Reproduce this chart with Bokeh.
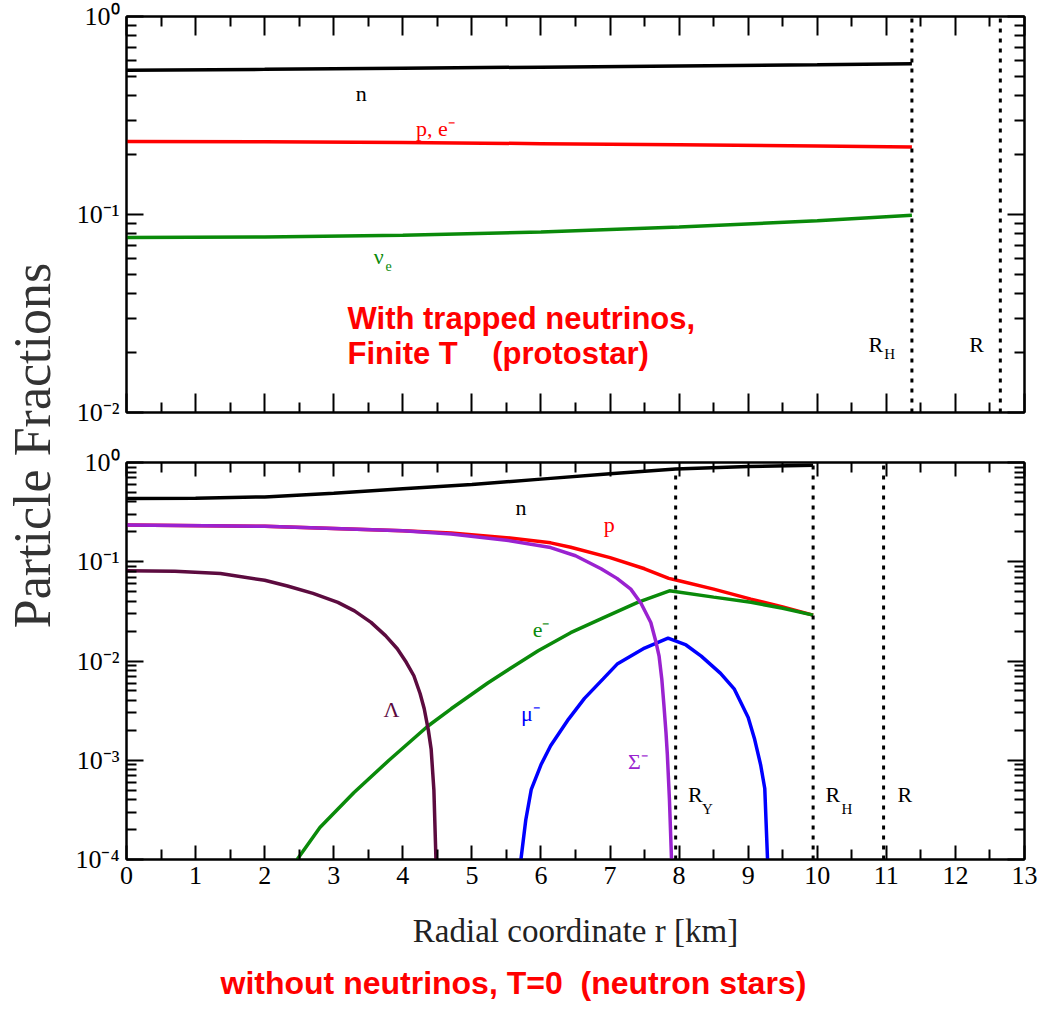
import numpy as np
from math import pi
from bokeh.plotting import figure
from bokeh.models import (FixedTicker, LinearAxis, LogAxis, Label, Title,
                          CustomJSTickFormatter, Range1d)
from bokeh.layouts import row, column
from bokeh.embed import file_html
from bokeh.resources import INLINE

# ---------------- data: top panel (trapped neutrinos, finite T) ----------------
r_top = [0, 2, 4, 6, 8, 10, 11.37]
n_top = [0.535, 0.541, 0.548, 0.555, 0.563, 0.571, 0.578]
pe_top = [0.234, 0.233, 0.231, 0.228, 0.225, 0.222, 0.219]
nue_top = [0.0765, 0.0770, 0.0785, 0.0815, 0.0865, 0.0930, 0.0990]
radii_top = [11.37, 12.65]          # R_H, R

# ---------------- data: bottom panel (no neutrinos, T=0) ----------------
r_n = [0, 1, 2, 3, 4, 5, 6, 7, 7.95, 9, 9.94]
n_bot = [0.435, 0.437, 0.45, 0.49, 0.545, 0.60, 0.68, 0.77, 0.86, 0.91, 0.94]

r_p = [0, 2, 4, 4.7, 5.5, 6.14, 6.43, 7.0, 7.5, 7.85, 8.0, 8.5, 9.04, 9.5, 9.94]
p_bot = [0.234, 0.228, 0.205, 0.195, 0.175, 0.155, 0.14, 0.11, 0.085, 0.068,
         0.0644, 0.053, 0.042, 0.035, 0.029]

r_sig = [0, 2, 4, 4.7, 5.5, 6.14, 6.5, 6.87, 7.1, 7.3, 7.45, 7.59, 7.66, 7.71,
         7.75, 7.78, 7.81, 7.83, 7.86, 7.89]
sig_bot = [0.234, 0.228, 0.205, 0.19, 0.165, 0.139, 0.115, 0.085, 0.068, 0.053,
           0.038, 0.0244, 0.016, 0.0112, 0.0065, 0.0036, 0.0019, 0.00113, 0.0004,
           0.0001]

r_lam = [0, 0.7, 1.36, 2, 2.33, 2.7, 3.06, 3.3, 3.54, 3.75, 3.92, 4.05, 4.16,
         4.25, 4.31, 4.37, 4.41, 4.45, 4.48]
lam_bot = [0.081, 0.080, 0.076, 0.065, 0.057, 0.048, 0.039, 0.032, 0.0245, 0.018,
           0.0133, 0.0097, 0.0071, 0.0047, 0.0033, 0.002, 0.0013, 0.0005, 0.0001]

r_e = [2.47, 2.8, 3.29, 3.8, 4.36, 4.7, 5.23, 5.6, 5.96, 6.43, 6.9, 7.4, 7.86,
       8.5, 9.04, 9.5, 9.94]
e_bot = [0.0001, 0.00021, 0.00047, 0.001, 0.0022, 0.0033, 0.006, 0.0088, 0.0127,
         0.0193, 0.0272, 0.039, 0.051, 0.044, 0.039, 0.034, 0.029]

r_mu = [5.71, 5.78, 5.86, 6.0, 6.14, 6.4, 6.63, 6.9, 7.11, 7.5, 7.84, 8.1, 8.32,
        8.6, 8.8, 9.0, 9.09, 9.18, 9.24, 9.28]
mu_bot = [0.0001, 0.00025, 0.00051, 0.0009, 0.0014, 0.0026, 0.0042, 0.0066, 0.0094,
          0.0135, 0.017, 0.0145, 0.0112, 0.0075, 0.0052, 0.0027, 0.00166, 0.0009,
          0.00052, 0.0001]

radii_bot = [7.95, 9.94, 10.96]     # R_Y, R_H, R

x_major = list(range(0, 14))
x_minor = [i + 0.5 for i in range(13)]

# ---------------- styling helpers ----------------
SERIF = "Liberation Serif"
SANS = "Liberation Sans"
LW = 3.5

sup_code = """
const e = Math.round(Math.log10(tick));
const m = {'-':'\u207b','0':'\u2070','1':'\u00b9','2':'\u00b2','3':'\u00b3','4':'\u2074'};
return '10' + String(e).split('').map(c => m[c]).join('');
"""


def log_ticker(dmin, dmax):
    majors = [10.0 ** d for d in range(dmin, dmax + 1)]
    minors = [k * 10.0 ** d for d in range(dmin, dmax) for k in range(2, 10)]
    return FixedTicker(ticks=majors, minor_ticks=minors)


def style_axis(ax, major_in, minor_in, labels=True):
    ax.major_tick_in = major_in
    ax.major_tick_out = 0
    ax.minor_tick_in = minor_in
    ax.minor_tick_out = 0
    ax.major_tick_line_color = "black"
    ax.major_tick_line_width = 2
    ax.minor_tick_line_color = "black"
    ax.minor_tick_line_width = 2
    ax.axis_line_color = "black"
    ax.axis_line_width = 2
    if labels:
        ax.major_label_text_font = SERIF
        ax.major_label_text_font_size = "26px"
        ax.major_label_text_color = "black"
        ax.major_label_standoff = 7
    else:
        ax.formatter = CustomJSTickFormatter(code="return ''")
        ax.major_label_text_font_size = "0px"
        ax.major_label_standoff = 0


def make_panel(height, ymin_dec, ymax_dec, top_b, bot_b, x_labels, xmaj_in, xmin_in):
    p = figure(width=993, height=height, x_range=(0, 13),
               y_range=(10.0 ** ymin_dec, 10.0 ** ymax_dec), y_axis_type="log",
               toolbar_location=None, output_backend="svg",
               min_border_left=66, min_border_right=29,
               min_border_top=top_b, min_border_bottom=bot_b)
    p.grid.visible = False
    p.outline_line_color = "black"
    p.outline_line_width = 2
    p.background_fill_color = "white"
    p.border_fill_color = "white"
    xt = FixedTicker(ticks=x_major, minor_ticks=x_minor)
    yt = log_ticker(ymin_dec, ymax_dec)
    p.below[0].ticker = xt
    p.left[0].ticker = yt
    p.left[0].formatter = CustomJSTickFormatter(code=sup_code)
    style_axis(p.below[0], xmaj_in, xmin_in, labels=x_labels)
    style_axis(p.left[0], 17, 10, labels=True)
    top_ax = LinearAxis(ticker=xt)
    style_axis(top_ax, xmaj_in, xmin_in, labels=False)
    p.add_layout(top_ax, "above")
    right_ax = LogAxis(ticker=yt)
    style_axis(right_ax, 17, 10, labels=False)
    p.add_layout(right_ax, "right")
    return p


def lab(p, x, y, text, color="black", size="22px", font=SERIF, style="normal",
        align="left", baseline="alphabetic", yoff=9):
    p.add_layout(Label(x=x, y=y, text=text, text_color=color, text_font_size=size,
                       text_font=font, text_font_style=style, text_align=align,
                       text_baseline=baseline, y_offset=yoff))


DOT = "4 6"

# ---------------- top panel ----------------
top = make_panel(437, -2, 0, 16, 25, False, 19, 10)
top.line(r_top, n_top, line_width=LW, color="black")
top.line(r_top, pe_top, line_width=LW, color="#ff0000")
top.line(r_top, nue_top, line_width=LW, color="#0a8a0a")
top.segment(x0=radii_top, y0=[0.01] * 2, x1=radii_top, y1=[1.0] * 2,
            line_color="black", line_width=3, line_dash=DOT)

lab(top, 3.32, 0.368, "n")
lab(top, 4.19, 0.245, "p, e\u207b", color="#ff0000")
lab(top, 3.58, 0.0552, "\u03bd", color="#0a8a0a")
lab(top, 3.75, 0.0492, "e", color="#0a8a0a", size="14px")
lab(top, 10.74, 0.0199, "R")
lab(top, 10.97, 0.0177, "H", size="15px")
lab(top, 12.2, 0.0199, "R")
lab(top, 3.2, 0.0268, "With trapped neutrinos,", color="#ff0000", size="31px",
    font=SANS, style="bold")
lab(top, 3.2, 0.0179, "Finite T\u00a0\u00a0\u00a0 (protostar)", color="#ff0000",
    size="31px", font=SANS, style="bold")

# ---------------- bottom panel ----------------
bot = make_panel(576, -4, 0, 25, 154, True, 14, 10)
xax = bot.below[0]
xax.axis_label = "Radial coordinate r [km]"
xax.axis_label_text_font = SERIF
xax.axis_label_text_font_size = "33px"
xax.axis_label_text_font_style = "normal"
xax.axis_label_text_color = "#222222"
xax.axis_label_standoff = 26

bot.line(r_n, n_bot, line_width=LW, color="black")
bot.line(r_p, p_bot, line_width=LW, color="#ff0000")
bot.line(r_e, e_bot, line_width=LW, color="#0a8a0a")
bot.line(r_mu, mu_bot, line_width=LW, color="#0000ff")
bot.line(r_lam, lam_bot, line_width=LW, color="#5c0b3f")
bot.line(r_sig, sig_bot, line_width=LW, color="#9a22d0")

tops_bot = [float(np.interp(radii_bot[0], r_n, n_bot)),
            float(np.interp(radii_bot[1], r_n, n_bot)), 1.0]
bot.segment(x0=radii_bot, y0=[1e-4] * 3, x1=radii_bot, y1=tops_bot,
            line_color="black", line_width=3, line_dash=DOT)

lab(bot, 5.71, 0.35, "n", align="center", baseline="middle", yoff=0)
lab(bot, 6.91, 0.191, "p", color="#ff0000")
lab(bot, 5.88, 0.0168, "e\u207b", color="#0a8a0a")
lab(bot, 3.72, 0.00263, "\u039b", color="#5c0b3f")
lab(bot, 5.71, 0.0024, "\u03bc\u207b", color="#0000ff")
lab(bot, 7.26, 0.00078, "\u03a3\u207b", color="#9a22d0")
lab(bot, 8.13, 0.000365, "R")
lab(bot, 8.33, 0.000263, "Y", size="15px")
lab(bot, 10.12, 0.000365, "R")
lab(bot, 10.35, 0.000263, "H", size="15px")
lab(bot, 11.16, 0.000365, "R")

bot.add_layout(Title(text="without neutrinos, T=0\u00a0 (neutron stars)", align="left",
                     offset=94, standoff=22, text_color="#ff0000", text_font=SANS,
                     text_font_style="bold", text_font_size="32px"), "below")

# ---------------- shared y label ----------------
left = figure(width=60, height=1013, x_range=Range1d(0, 60), y_range=Range1d(0, 1013),
              x_axis_type=None, y_axis_type=None, toolbar_location=None,
              output_backend="svg", min_border=0)
left.outline_line_color = None
left.grid.visible = False
left.add_layout(Label(x=32, y=1013 - 445, text="Particle Fractions", angle=pi / 2,
                      text_align="center", text_baseline="middle", text_font=SERIF,
                      text_font_size="52px", text_color="#333333"))

layout = row(left, column(top, bot))
open("out.html", "w").write(file_html(layout, INLINE))
